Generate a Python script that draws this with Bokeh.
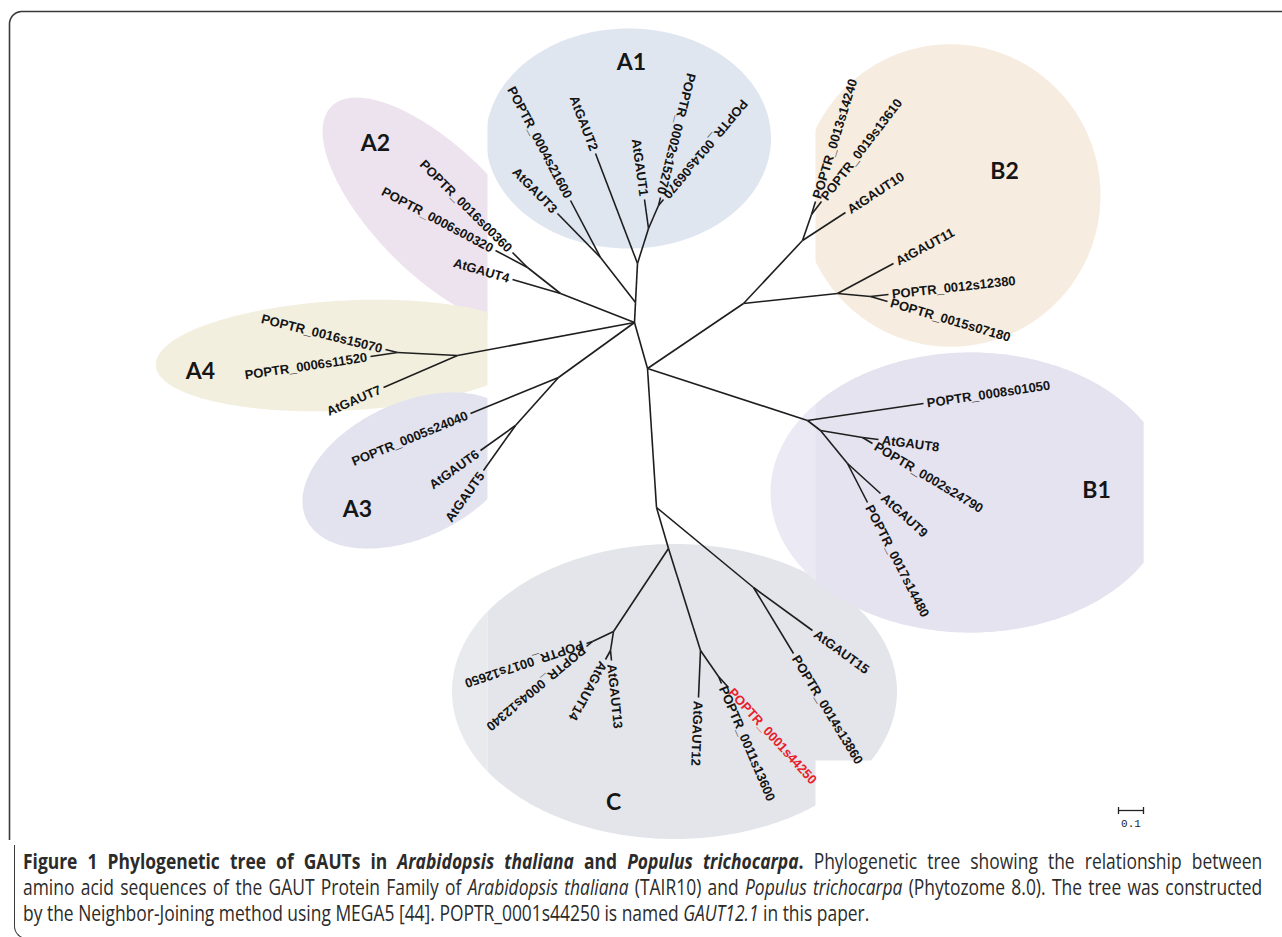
import numpy as np
from bokeh.plotting import figure
from bokeh.models import ColumnDataSource, Range1d, Div
from bokeh.layouts import column
from bokeh.core.properties import value
from bokeh.embed import file_html
from bokeh.resources import INLINE

# ---------------------------------------------------------------------------
# Unrooted neighbour-joining tree of the GAUT family (tree-distance units,
# central hub at 0,0).  Internal nodes:
node_names = ["hub", "A1r", "A1c", "A1b", "A1a", "A1d", "A2r", "A2a", "A4a", "A4b",
              "A3a", "A3b", "N1", "B2r", "B2a", "B2c", "B2b", "B2d", "B1r", "B1a",
              "B1b", "B1c", "C0", "C1", "C3", "C5", "C6", "C4", "C7", "C2"]
node_x = [0.000, 0.004, 0.012, 0.056, 0.096, -0.136, -0.296, -0.428, -0.708, -0.948,
          -0.304, -0.476, 0.052, 0.436, 0.672, 0.708, 0.812, 0.944, 0.692, 0.744,
          0.912, 0.852, 0.088, 0.136, -0.084, -0.168, -0.096, 0.264, 0.336, 0.476]
node_y = [0.000, 0.080, 0.236, 0.376, 0.468, 0.260, 0.116, 0.220, -0.132, -0.120,
          -0.220, -0.412, -0.184, 0.076, 0.328, 0.432, 0.116, 0.104, -0.392, -0.432,
          -0.460, -0.564, -0.740, -0.904, -1.236, -1.276, -1.312, -1.312, -1.416, -1.060]
node_parent = [None, "hub", "A1r", "A1c", "A1b", "A1r", "hub", "A2r", "hub", "A4a",
               "hub", "A3a", "hub", "N1", "B2r", "B2a", "B2r", "B2b", "N1", "B1r",
               "B1a", "B1a", "N1", "C0", "C1", "C3", "C3", "C1", "C4", "C0"]

# Leaves (sequences)
leaf_names = ["AtGAUT2", "AtGAUT1", "POPTR_0002s15270", "POPTR_0014s06970", "AtGAUT3",
              "POPTR_0004s21600",
              "AtGAUT4", "POPTR_0016s00360", "POPTR_0006s00320",
              "AtGAUT7", "POPTR_0016s15070", "POPTR_0006s11520",
              "POPTR_0005s24040", "AtGAUT6", "AtGAUT5",
              "AtGAUT10", "POPTR_0013s14240", "POPTR_0019s13610", "AtGAUT11",
              "POPTR_0012s12380", "POPTR_0015s07180",
              "POPTR_0008s01050", "AtGAUT8", "POPTR_0002s24790", "AtGAUT9", "POPTR_0017s14480",
              "POPTR_0017s12650", "POPTR_0004s12340", "AtGAUT14", "AtGAUT13", "AtGAUT12",
              "POPTR_0011s13600", "POPTR_0001s44250", "AtGAUT15", "POPTR_0014s13860"]
leaf_x = [-0.156, 0.040, 0.104, 0.116, -0.308, -0.256,
          -0.488, -0.488, -0.556,
          -1.004, -0.996, -1.056,
          -0.656, -0.616, -0.604,
          0.844, 0.724, 0.748, 1.036, 1.016, 1.012,
          1.156, 0.976, 0.952, 0.984, 0.932,
          -0.192, -0.192, -0.116, -0.092, 0.256, 0.348, 0.376, 0.712, 0.636]
leaf_y = [0.676, 0.492, 0.500, 0.492, 0.436, 0.488,
          0.172, 0.280, 0.288,
          -0.260, -0.108, -0.136,
          -0.364, -0.512, -0.592,
          0.440, 0.484, 0.484, 0.236, 0.112, 0.084,
          -0.324, -0.468, -0.484, -0.684, -0.720,
          -1.284, -1.296, -1.348, -1.352, -1.500, -1.444, -1.460, -1.232, -1.324]
leaf_parent = ["A1c", "A1b", "A1a", "A1a", "A1d", "A1d",
               "A2r", "A2a", "A2a",
               "A4a", "A4b", "A4b",
               "A3a", "A3b", "A3b",
               "B2a", "B2c", "B2c", "B2b", "B2d", "B2d",
               "B1r", "B1b", "B1b", "B1c", "B1c",
               "C5", "C5", "C6", "C6", "C4", "C7", "C7", "C2", "C2"]
leaf_clade = ["A1"] * 6 + ["A2"] * 3 + ["A4"] * 3 + ["A3"] * 3 + ["B2"] * 6 + ["B1"] * 5 + ["C"] * 9
highlighted = ["POPTR_0001s44250"]

# Clade shading and names
clade_names = ["A1", "A2", "A3", "A4", "B1", "B2", "C"]
clade_label_x = [-0.012, -1.036, -1.108, -1.736, 1.848, 1.480, -0.084]
clade_label_y = [1.048, 0.724, -0.740, -0.188, -0.664, 0.612, -1.912]
clade_fill = ["#dfe6f0", "#ede3ee", "#e3e3ef", "#f3efdf", "#e5e3f0", "#f6ede0", "#e3e5ea"]
clade_cx = [-0.024, -0.788, -0.896, -1.156, 1.344, 1.264, 0.160]
clade_cy = [0.736, 0.440, -0.592, -0.132, -0.680, 0.508, -1.476]
clade_w = [1.14, 1.20, 0.92, 1.52, 1.60, 1.20, 1.78]
clade_h = [0.88, 0.50, 0.54, 0.44, 1.12, 1.21, 1.18]
clade_rot = [0, -45, 25, 3, 0, 0, 0]

scale_length = 0.1
scale_label = "0.1"

# ---------------------------------------------------------------------------
pos = {n: (x, y) for n, x, y in zip(node_names, node_x, node_y)}
for n, x, y in zip(leaf_names, leaf_x, leaf_y):
    pos[n] = (x, y)

W, H = 1282, 840
x0, y0 = -2.536, -2.072
x1, y1 = x0 + W / 250.0, y0 + H / 250.0

p = figure(width=W, height=H, x_range=Range1d(x0, x1), y_range=Range1d(y0, y1),
           x_axis_type=None, y_axis_type=None, output_backend="svg",
           toolbar_location=None, min_border=0, outline_line_color=None,
           background_fill_color="white", border_fill_color="white")
p.grid.visible = False


def ellipse_xy(cx, cy, w, h, rot, n=300):
    t = np.linspace(0, 2 * np.pi, n)
    a = np.radians(rot)
    ex, ey = w / 2 * np.cos(t), h / 2 * np.sin(t)
    return cx + ex * np.cos(a) - ey * np.sin(a), cy + ex * np.sin(a) + ey * np.cos(a)


ci = {c: i for i, c in enumerate(clade_names)}


def shade(c, xmin=None, xmax=None, color=None):
    i = ci[c]
    ex, ey = ellipse_xy(clade_cx[i], clade_cy[i], clade_w[i], clade_h[i], clade_rot[i])
    if xmin is not None:
        ex = np.maximum(ex, xmin)
    if xmax is not None:
        ex = np.minimum(ex, xmax)
    p.patch(ex, ey, fill_color=color or clade_fill[i], line_color=None)


# panel seams of the composed figure
XL, XR, XB1 = -0.588, 0.724, 2.036
YT, YB = 0.908, -1.752

shade("C")
shade("A1")
shade("B2", xmin=XR)
shade("B1", xmax=XB1, color="#ebeaf4")
shade("B1", xmin=XR, xmax=XB1)
p.quad(left=[x0 - 0.1, XR], right=[XL, x1 + 0.1], bottom=[y0 - 0.1, y0 - 0.1],
       top=[YT, YB], fill_color="white", line_color=None)
shade("C", xmax=XL, color="#e9eaee")
shade("A2", xmax=XL)
shade("A4", xmax=XL)
shade("A3", xmax=XL)

# branches
xs, ys = [], []
for n, par in zip(node_names, node_parent):
    if par is not None:
        xs.append([pos[par][0], pos[n][0]])
        ys.append([pos[par][1], pos[n][1]])
for n, par in zip(leaf_names, leaf_parent):
    xs.append([pos[par][0], pos[n][0]])
    ys.append([pos[par][1], pos[n][1]])
p.multi_line(xs, ys, line_color="#1e1e1e", line_width=1.6)

# leaf labels laid along their branches
gap = 0.014
lx, ly, la, lalign, lcol = [], [], [], [], []
for n, par, cl in zip(leaf_names, leaf_parent, leaf_clade):
    dx = pos[n][0] - pos[par][0]
    dy = pos[n][1] - pos[par][1]
    ang = np.arctan2(dy, dx)
    lx.append(pos[n][0] + gap * np.cos(ang))
    ly.append(pos[n][1] + gap * np.sin(ang))
    if cl.startswith("A"):
        la.append(ang + np.pi)
        lalign.append("right")
    else:
        la.append(ang)
        lalign.append("left")
    lcol.append("#e8202a" if n in highlighted else "#141414")

src = ColumnDataSource(dict(x=lx, y=ly, text=leaf_names, angle=la, align=lalign, color=lcol))
p.text(x="x", y="y", text="text", angle="angle", text_align="align", text_color="color",
       text_baseline="middle", text_font=value("Liberation Sans"), text_font_size="13px",
       text_font_style="bold", source=src)

# clade names
p.text(x=clade_label_x, y=clade_label_y, text=clade_names, text_align="center",
       text_baseline="middle", text_font=value("Lato"), text_font_size="23px",
       text_font_style="bold", text_color="#161616")

# scale bar
sb_x, sb_y = 1.936, -1.952
tick = 0.014
p.multi_line([[sb_x, sb_x + scale_length], [sb_x, sb_x], [sb_x + scale_length, sb_x + scale_length]],
             [[sb_y, sb_y], [sb_y - tick, sb_y + tick], [sb_y - tick, sb_y + tick]],
             line_color="#222222", line_width=1.3)
p.text(x=[sb_x + scale_length / 2], y=[sb_y - 0.05], text=[scale_label], text_align="center",
       text_baseline="middle", text_font=value("Liberation Mono"), text_font_size="11px",
       text_color="#222222")

# frame (top and left edges with a rounded corner)
r = 0.05
fx_left, fy_top = -2.50, 1.244
t = np.linspace(np.pi, np.pi / 2, 20)
frame_x = [fx_left] + list(fx_left + r + r * np.cos(t)) + [x1 + 0.1]
frame_y = [y0 - 0.1] + list(fy_top - r + r * np.sin(t)) + [fy_top]
p.line(frame_x, frame_y, line_color="#3a3a3a", line_width=1.6)

# figure legend: a justified, condensed paragraph
caption_lines = [
    "<b>Figure 1 Phylogenetic tree of GAUTs in <i>Arabidopsis thaliana</i> and "
    "<i>Populus trichocarpa</i>.</b> Phylogenetic tree showing the relationship between",
    "amino acid sequences of the GAUT Protein Family of <i>Arabidopsis thaliana</i> (TAIR10) and "
    "<i>Populus trichocarpa</i> (Phytozome 8.0). The tree was constructed",
    "by the Neighbor-Joining method using MEGA5 [44]. POPTR_0001s44250 is named "
    "<i>GAUT12.1</i> in this paper.",
]
squeeze = 0.83
col_width = 1240
line_divs = "".join(
    '<div style="position:absolute;left:0;top:%dpx;width:%dpx;white-space:nowrap;'
    'text-align:left;text-align-last:%s;'
    'transform:scaleX(%.3f);transform-origin:0 50%%;">%s</div>'
    % (i * 26, int(col_width / squeeze), "justify" if i < len(caption_lines) - 1 else "left",
       squeeze, s)
    for i, s in enumerate(caption_lines)
)
html = (
    '<div style="position:relative;width:1282px;height:97px;overflow:hidden;">'
    '<div style="position:absolute;left:9px;top:-20px;width:1320px;height:114px;'
    'border-left:1.6px solid #3a3a3a;border-bottom:1.6px solid #3a3a3a;'
    'border-bottom-left-radius:13px;box-sizing:border-box;"></div>'
    '<div style="position:absolute;left:18px;top:4px;width:1250px;height:84px;'
    "font-family:'Open Sans',sans-serif;font-size:21px;line-height:25px;color:#2b2b2b;\">"
    + line_divs + '</div></div>'
)
cap = Div(text=html, width=W, height=97)

layout = column(p, cap, spacing=0)
open("out.html", "w").write(file_html(layout, INLINE))
